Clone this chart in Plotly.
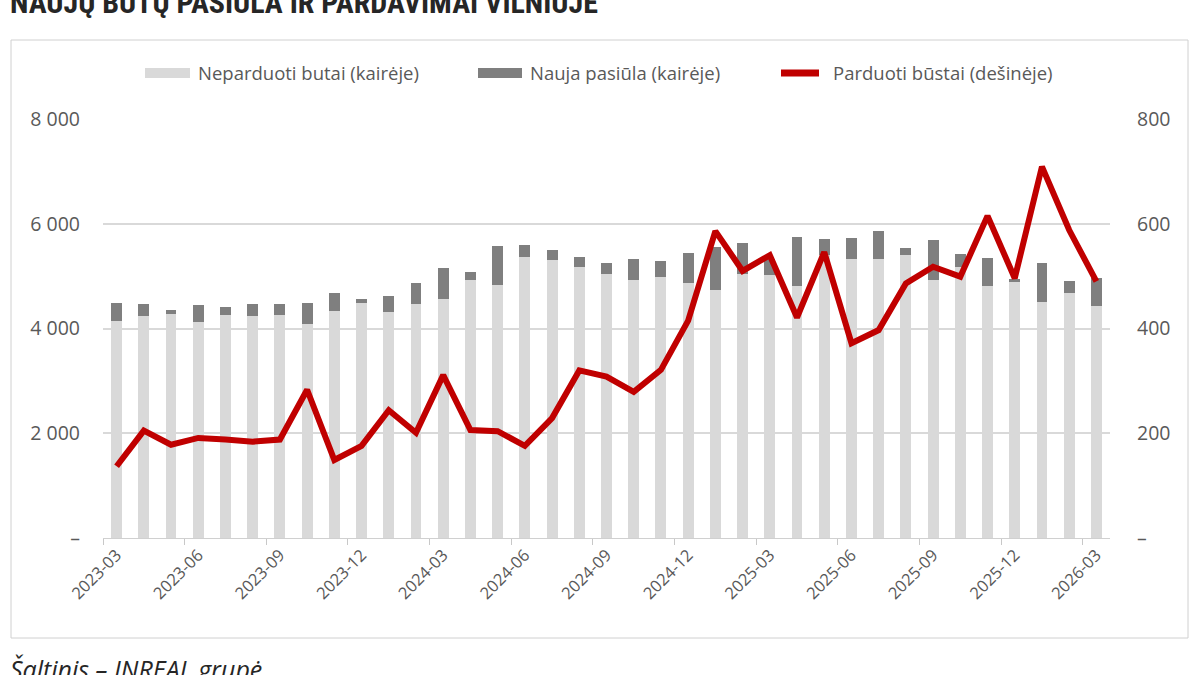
import plotly.graph_objects as go

months = ["2023-03", "2023-04", "2023-05", "2023-06", "2023-07", "2023-08", "2023-09",
          "2023-10", "2023-11", "2023-12", "2024-01", "2024-02", "2024-03", "2024-04",
          "2024-05", "2024-06", "2024-07", "2024-08", "2024-09", "2024-10", "2024-11",
          "2024-12", "2025-01", "2025-02", "2025-03", "2025-04", "2025-05", "2025-06",
          "2025-07", "2025-08", "2025-09", "2025-10", "2025-11", "2025-12", "2026-01",
          "2026-02", "2026-03"]

unsold = [4140, 4230, 4280, 4120, 4260, 4230, 4260, 4080, 4330, 4490, 4310, 4470, 4560,
          4920, 4830, 5370, 5310, 5170, 5050, 4920, 4990, 4870, 4730, 5050, 5020, 4810,
          5400, 5330, 5330, 5400, 4920, 5170, 4810, 4880, 4510, 4670, 4430]

new_supply = [350, 230, 70, 320, 160, 230, 200, 410, 340, 70, 310, 400, 590, 160, 740,
              230, 180, 200, 210, 410, 290, 570, 830, 580, 310, 940, 310, 400, 540, 130,
              770, 250, 540, 70, 750, 240, 530]

sold = [137, 205, 178, 191, 188, 184, 188, 283, 149, 176, 244, 201, 311, 206, 204, 176,
        229, 320, 308, 279, 321, 415, 586, 510, 540, 421, 546, 372, 397, 486, 518, 499,
        615, 496, 709, 588, 490]

left_ticks = [0, 2000, 4000, 6000, 8000]
left_labels = ["–", "2 000", "4 000", "6 000", "8 000"]
right_ticks = [0, 200, 400, 600, 800]
right_labels = ["–", "200", "400", "600", "800"]

names = ["Neparduoti butai (kairėje)", "Nauja pasiūla (kairėje)", "Parduoti būstai (dešinėje)"]
title = "NAUJŲ BŪTŲ PASIŪLA IR PARDAVIMAI VILNIUJE"
source = "Šaltinis – INREAL grupė"

C_LIGHT = "#d9d9d9"
C_DARK = "#7f7f7f"
C_RED = "#c00000"
C_TXT = "#595959"
FONT = "Open Sans, Roboto, Noto Sans, sans-serif"

W, H = 1200, 675
L, R, T, B = 103, 90, 119, 137
PW, PH = W - L - R, H - T - B


def px(x):
    return (x - L) / PW


def py(y):
    return 1 - (y - T) / PH


fig = go.Figure()
fig.add_trace(go.Bar(x=months, y=unsold, name=names[0], marker_color=C_LIGHT,
                     marker_line_width=0, width=0.4, showlegend=False))
fig.add_trace(go.Bar(x=months, y=new_supply, name=names[1], marker_color=C_DARK,
                     marker_line_width=0, width=0.4, showlegend=False))
fig.add_trace(go.Scatter(x=months, y=sold, name=names[2], mode="lines", yaxis="y2",
                         line=dict(color=C_RED, width=6), showlegend=False))

shapes = [
    dict(type="rect", xref="paper", yref="paper", x0=px(11), x1=px(1188), y0=py(638), y1=py(40),
         line=dict(color="#d0d0d0", width=1), fillcolor="rgba(0,0,0,0)", layer="below"),
    dict(type="rect", xref="paper", yref="paper", x0=px(145), x1=px(190), y0=py(78), y1=py(68),
         line=dict(width=0), fillcolor=C_LIGHT),
    dict(type="rect", xref="paper", yref="paper", x0=px(478), x1=px(522), y0=py(78), y1=py(68),
         line=dict(width=0), fillcolor=C_DARK),
    dict(type="line", xref="paper", yref="paper", x0=px(781), x1=px(819), y0=py(73), y1=py(73),
         line=dict(color=C_RED, width=7)),
]

LEG = 18.5
annotations = [
    dict(text=names[0], x=px(196), y=py(73), xref="paper", yref="paper", xanchor="left",
         yanchor="middle", showarrow=False, font=dict(size=LEG, color=C_TXT, family=FONT)),
    dict(text=names[1], x=px(528), y=py(73), xref="paper", yref="paper", xanchor="left",
         yanchor="middle", showarrow=False, font=dict(size=LEG, color=C_TXT, family=FONT)),
    dict(text=names[2], x=px(831), y=py(73), xref="paper", yref="paper", xanchor="left",
         yanchor="middle", showarrow=False, font=dict(size=LEG, color=C_TXT, family=FONT)),
    dict(text="<b>" + title + "</b>", x=px(8), y=py(22), xref="paper", yref="paper",
         xanchor="left", yanchor="bottom", showarrow=False,
         font=dict(size=30, color="#262626", family="Liberation Sans Narrow, Roboto Condensed, Roboto, sans-serif")),
    dict(text="<i>" + source + "</i>", x=px(8), y=py(650), xref="paper", yref="paper",
         xanchor="left", yanchor="top", showarrow=False,
         font=dict(size=25, color="#262626", family=FONT)),
]

fig.update_layout(
    width=W, height=H,
    margin=dict(l=L, r=R, t=T, b=B),
    paper_bgcolor="white", plot_bgcolor="white",
    barmode="stack",
    font=dict(family=FONT, color=C_TXT, size=15),
    shapes=shapes,
    annotations=annotations,
    xaxis=dict(type="category", categoryorder="array", categoryarray=months,
               range=[-0.5, len(months) - 0.5], tickmode="linear", tick0=0, dtick=3,
               tickson="boundaries", ticks="outside", ticklen=6, tickcolor="#c8c8c8",
               showline=True, linecolor="#d0d0d0", linewidth=1, showgrid=False,
               tickangle=-45, tickfont=dict(size=16.5, color=C_TXT)),
    yaxis=dict(range=[0, 8000], tickvals=left_ticks, ticktext=left_labels,
               showgrid=True, gridcolor=C_LIGHT, gridwidth=2, zeroline=False,
               ticks="", ticklabelstandoff=22, tickfont=dict(size=19.5, color=C_TXT)),
    yaxis2=dict(range=[0, 800], tickvals=right_ticks, ticktext=right_labels,
                overlaying="y", side="right", showgrid=False, zeroline=False,
                ticks="", ticklabelstandoff=26, tickfont=dict(size=19.5, color=C_TXT)),
)

fig.write_html("out.html")
